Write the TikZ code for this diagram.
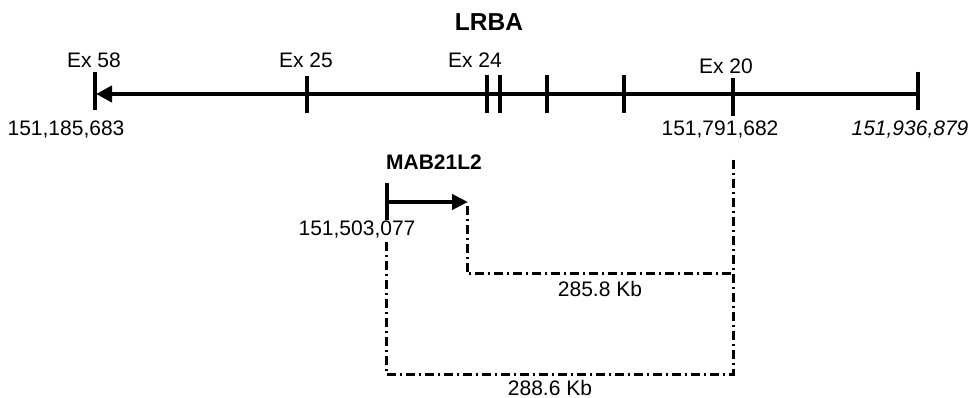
\documentclass[tikz,border=0pt]{standalone}
\usepackage{fontspec}
\setmainfont{Liberation Sans}
\usetikzlibrary{arrows.meta}
\begin{document}
\begin{tikzpicture}[x=1pt,y=-1pt,
 lbl/.style={inner sep=0pt, font=\fontsize{21}{25}\selectfont},
 boldlbl/.style={inner sep=0pt, font=\fontsize{21}{25}\selectfont\bfseries},
 tickmark/.style={line width=3.8pt},
 mainline/.style={line width=4.6pt},
 dashdot/.style={line width=3pt, dash pattern=on 9pt off 4pt on 2pt off 4pt}]
\useasboundingbox (0,0) rectangle (978,398);
% main axis
\coordinate (L) at (96,94);
\coordinate (R) at (918,94);
\draw[mainline, -{Triangle[length=16pt,width=16pt]}] (R) -- (L);
% ticks
\coordinate (t58a) at (95,72);  \coordinate (t58b) at (95,110);
\coordinate (t25a) at (307,76); \coordinate (t25b) at (307,113);
\coordinate (t24a) at (487,75); \coordinate (t24b) at (487,113);
\coordinate (t23a) at (500,75); \coordinate (t23b) at (500,113);
\coordinate (t22a) at (547,75); \coordinate (t22b) at (547,113);
\coordinate (t21a) at (624,75); \coordinate (t21b) at (624,113);
\coordinate (t20a) at (733,78); \coordinate (t20b) at (733,116);
\coordinate (tEa) at (918,72);  \coordinate (tEb) at (918,110);
\foreach \t in {t58,t25,t24,t23,t22,t21,t20,tE}{\draw[tickmark] (\t a) -- (\t b);}
% labels
\node[boldlbl, font=\fontsize{24.5}{29}\selectfont\bfseries] (title) at (489,22) {LRBA};
\node[lbl] (ex58) at (94,60) {Ex 58};
\node[lbl] (ex25) at (306,60) {Ex 25};
\node[lbl] (ex24) at (475,60) {Ex 24};
\node[lbl] (ex20) at (726,66) {Ex 20};
\node[lbl] (p1) at (66,130) {151,185,683};
\node[lbl] (p2) at (720,130) {151,791,682};
\node[lbl] (p3) at (910,130) {\itshape 151,936,879};
% gene
\node[boldlbl] (gene) at (434,162) {MAB21L2};
\coordinate (ga) at (387,183); \coordinate (gb) at (387,220);
\draw[tickmark] (ga) -- (gb);
\coordinate (gs) at (387,202); \coordinate (ge) at (468,202);
\draw[mainline, line width=4.2pt, -{Triangle[length=16pt,width=15pt]}] (gs) -- (ge);
% connectors
\node[lbl] (p4) at (357,230) {151,503,077};
\coordinate (d1) at (467,206);
\coordinate (c1) at (467,274);
\coordinate (c2) at (733,274);
\coordinate (d2) at (733,160);
\coordinate (c3) at (733,374);
\coordinate (c4) at (386,374);
\coordinate (d3) at (386,242);
\draw[dashdot] (d1) -- (c1) -- (c2);
\draw[dashdot] (d2) -- (c3) -- (c4) -- (d3);
\node[lbl] (k1) at (600,289) {285.8 Kb};
\node[lbl] (k2) at (550,388) {288.6 Kb};
\end{tikzpicture}
\end{document}
